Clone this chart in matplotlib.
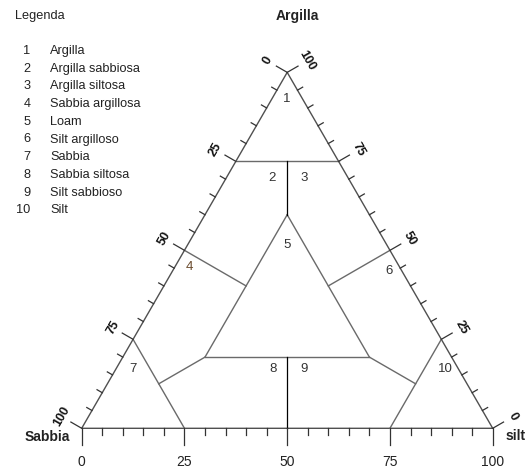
import numpy as np
import matplotlib
matplotlib.use("Agg")
import matplotlib.pyplot as plt

plt.rcParams["font.family"] = ["Liberation Sans", "DejaVu Sans"]

# Legend entries
class_ids = [1, 2, 3, 4, 5, 6, 7, 8, 9, 10]
class_names = ["Argilla", "Argilla sabbiosa", "Argilla siltosa", "Sabbia argillosa",
               "Loam", "Silt argilloso", "Sabbia", "Sabbia siltosa",
               "Silt sabbioso", "Silt"]

# Class boundaries as (sand, silt, clay) segments
boundaries = [
    [(25, 0, 75), (0, 25, 75)],
    [(50, 0, 50), (40, 20, 40)],
    [(0, 50, 50), (20, 40, 40)],
    [(20, 20, 60), (60, 20, 20)],
    [(20, 20, 60), (20, 60, 20)],
    [(60, 20, 20), (20, 60, 20)],
    [(75, 25, 0), (75, 0, 25)],
    [(60, 20, 20), (75, 12.5, 12.5)],
    [(25, 75, 0), (0, 75, 25)],
    [(20, 60, 20), (12.5, 75, 12.5)],
]
center_lines = [
    [(12.5, 12.5, 75), (20, 20, 60)],
    [(40, 40, 20), (50, 50, 0)],
]

# Region number positions (sand, silt, clay)
label_sand = [3.7, 18.7, 10.7, 51.2, 24.3, 3.1, 79.1, 45.0, 37.4, 3.0]
label_silt = [3.7, 11.1, 19.1, 3.5, 24.3, 52.7, 4.1, 38.2, 45.8, 80.2]
label_clay = [92.6, 70.2, 70.2, 45.3, 51.4, 44.2, 16.8, 16.8, 16.8, 16.8]

axis_ticks = np.arange(0, 101, 5)
axis_labels = [0, 25, 50, 75, 100]

S3 = np.sqrt(3) / 2


def tern(sand, silt, clay):
    return silt + clay / 2.0, clay * S3


W, H = 531, 468
fig = plt.figure(figsize=(W / 100, H / 100), dpi=100)
ax = fig.add_axes([0, 0, 1, 1])
px = 4.11  # pixels per percent unit
x0, y0 = 81.7, H - 428.3
ax.set_xlim(-x0 / px, (W - x0) / px)
ax.set_ylim(-y0 / px, (H - y0) / px)
ax.axis("off")

edge_col = "#505050"
line_col = "#6a6a6a"

# triangle
tx, ty = zip(*[tern(100, 0, 0), tern(0, 100, 0), tern(0, 0, 100), tern(100, 0, 0)])
ax.plot(tx, ty, color=edge_col, lw=1.0, solid_capstyle="butt")

for seg in boundaries:
    xs, ys = zip(*[tern(*p) for p in seg])
    ax.plot(xs, ys, color=line_col, lw=1.0)
for seg in center_lines:
    xs, ys = zip(*[tern(*p) for p in seg])
    ax.plot(xs, ys, color="black", lw=0.9)

# ticks
maj_side, min_side = 12.5 / px, 6 / px
maj_bot, min_bot = 17 / px, 7 / px
lab_d = 23 / px
left_n = np.array([-np.cos(np.pi / 6), 0.5])
right_n = np.array([np.cos(np.pi / 6), 0.5])
for v in axis_ticks:
    major = v % 25 == 0
    # bottom axis (silt)
    bx, by = tern(100 - v, v, 0)
    L = maj_bot if major else min_bot
    ax.plot([bx, bx], [by, by - L], color="#333333", lw=0.9)
    # left axis (sand, 0 at top)
    lx, ly = tern(v, 0, 100 - v)
    L = maj_side if major else min_side
    ax.plot([lx, lx + left_n[0] * L], [ly, ly + left_n[1] * L], color="#333333", lw=0.9)
    # right axis (clay, 0 at bottom right)
    rx, ry = tern(0, 100 - v, v)
    ax.plot([rx, rx + right_n[0] * L], [ry, ry + right_n[1] * L], color="#333333", lw=0.9)

for v in axis_labels:
    bx, by = tern(100 - v, v, 0)
    ax.text(bx, by - 33.4 / px, str(v), ha="center", va="center", fontsize=10, color="#222222")
    lx, ly = tern(v, 0, 100 - v)
    ax.text(lx + left_n[0] * lab_d, ly + left_n[1] * lab_d, str(v), rotation=60,
            ha="center", va="center", fontsize=9, fontweight="bold", color="#111111",
            rotation_mode="anchor")
    rx, ry = tern(0, 100 - v, v)
    ax.text(rx + right_n[0] * lab_d, ry + right_n[1] * lab_d, str(v), rotation=-60,
            ha="center", va="center", fontsize=9, fontweight="bold", color="#111111",
            rotation_mode="anchor")

# region numbers
for i, n in enumerate(class_ids):
    x, y = tern(label_sand[i], label_silt[i], label_clay[i])
    col = "#6b4c2e" if n == 4 else "#333333"
    ax.text(x, y, str(n), ha="center", va="center", fontsize=9.5, color=col)

# vertex names
fig.text(47 / W, 1 - 437 / H, "Sabbia", ha="center", va="center", fontsize=10, fontweight="bold", color="#222222")
fig.text(516 / W, 1 - 436 / H, "silt", ha="center", va="center", fontsize=10, fontweight="bold", color="#222222")
fig.text(297 / W, 1 - 16 / H, "Argilla", ha="center", va="center", fontsize=10, fontweight="bold", color="#222222")

# legend
fig.text(15 / W, 1 - 16 / H, "Legenda", ha="left", va="center", fontsize=9.2, color="#222222")
for i, (n, name) in enumerate(zip(class_ids, class_names)):
    yy = 1 - (51 + i * 17.7) / H
    fig.text(30.5 / W, yy, str(n), ha="right", va="center", fontsize=9.2, color="#222222")
    fig.text(50 / W, yy, name, ha="left", va="center", fontsize=9.2, color="#222222")

fig.savefig("out.png", dpi=100)
